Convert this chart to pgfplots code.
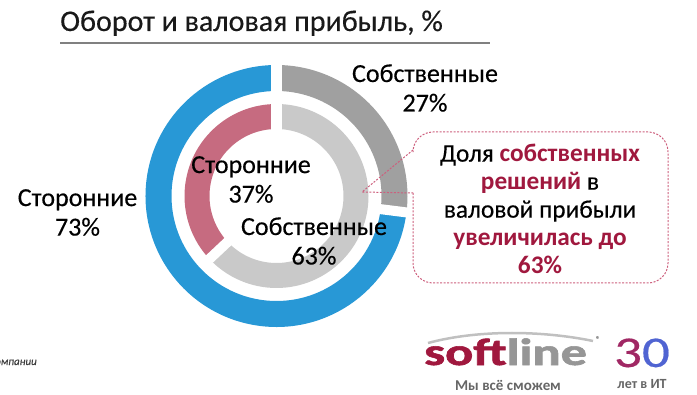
\documentclass[border=0pt]{standalone}
\usepackage{fontspec}
\setmainfont{Carlito}[UprightFeatures={FakeBold=0.35},ItalicFeatures={FakeBold=0.35}]
\newfontfamily\logofont[FakeBold=1.5]{Carlito Bold}
\usepackage{pgfplots}
\usepackage{pgfplotstable}
\pgfplotsset{compat=1.18}
\definecolor{cblue}{RGB}{40,152,214}
\definecolor{cdgray}{RGB}{160,160,160}
\definecolor{clgray}{RGB}{201,201,201}
\definecolor{cpink}{RGB}{198,107,128}
\definecolor{ccrim}{RGB}{160,24,62}
\definecolor{cdash}{RGB}{205,95,125}
\definecolor{ctitleline}{RGB}{128,128,128}
\definecolor{clogogray}{RGB}{150,150,150}
\definecolor{cthree}{RGB}{160,40,100}
\definecolor{czero}{RGB}{80,100,210}

% shares, %: own solutions vs third-party
\pgfplotstableread{
ring  own  ext
outer 27   73
inner 63   37
}\shares

\pgfplotstablegetelem{0}{own}\of\shares \let\outerOwn\pgfplotsretval
\pgfplotstablegetelem{0}{ext}\of\shares \let\outerExt\pgfplotsretval
\pgfplotstablegetelem{1}{own}\of\shares \let\innerOwn\pgfplotsretval
\pgfplotstablegetelem{1}{ext}\of\shares \let\innerExt\pgfplotsretval

\pgfmathsetmacro\aA{90-3.6*\outerOwn}
\pgfmathsetmacro\aB{\aA-3.6*\outerExt}
\pgfmathsetmacro\bA{90-3.6*\innerOwn}
\pgfmathsetmacro\bB{\bA-3.6*\innerExt}

\newcommand\seg[5]{%
  \fill[#1,shift={(axis cs:276.5,199)}] (#2:#5) arc[start angle=#2,end angle=#3,radius=#5]
     -- (#3:#4) arc[start angle=#3,end angle=#2,radius=#4] -- cycle;}

\begin{document}
\begin{tikzpicture}
\useasboundingbox (0,0) rectangle (697bp,395bp);
\begin{axis}[
  at={(0,0)}, anchor=south west,
  scale only axis, width=697bp, height=395bp,
  xmin=0, xmax=697, ymin=0, ymax=395,
  hide axis, clip=false]
  % outer ring (turnover)
  \seg{cdgray}{90}{\aA}{105bp}{131bp}
  \seg{cblue}{\aA}{\aB}{105bp}{131bp}
  % inner ring (gross profit)
  \seg{clgray}{90}{\bA}{67bp}{92bp}
  \seg{cpink}{\bA}{\bB}{67bp}{92bp}
  % separators
  \draw[white,line width=11.5bp,shift={(axis cs:276.5,199)}] (90:60bp) -- (90:140bp);
  \draw[white,line width=10bp,shift={(axis cs:276.5,199)}] (\aA:100bp) -- (\aA:140bp);
  \draw[white,line width=10bp,shift={(axis cs:276.5,199)}] (\bA:60bp) -- (\bA:97bp);

  % title
  \node[anchor=base west,inner sep=0pt,text=black!90] at (axis cs:60,364)
    {\fontsize{30bp}{34bp}\selectfont Оборот и валовая прибыль, \%};
  \draw[ctitleline,line width=2bp] (axis cs:60,352.3) -- (axis cs:490,352.3);

  % ring labels
  \begin{scope}[every node/.style={align=center,inner sep=0pt,font=\fontsize{26bp}{29.5bp}\selectfont}]
  \node at (axis cs:77.5,182.5) {Сторонние\\73\%};
  \node at (axis cs:425,307) {Собственные\\27\%};
  \node at (axis cs:251,215.5) {Сторонние\\37\%};
  \node at (axis cs:314,154) {Собственные\\63\%};
  \end{scope}

  % callout
  \draw[cdash,line width=1bp,dash pattern=on 2bp off 1.5bp,rounded corners=20bp]
    (axis cs:413,202) -- (axis cs:413,112) -- (axis cs:668,112) -- (axis cs:668,263)
    -- (axis cs:413,263) -- (axis cs:413,245);
  \draw[cdash,line width=1bp,dash pattern=on 2bp off 1.5bp]
    (axis cs:413,245) -- (axis cs:362,203) -- (axis cs:413,202);
  \node[align=center,inner sep=0pt,font=\fontsize{25.3bp}{28bp}\selectfont] at (axis cs:540,186)
    {Доля {\bfseries\color{ccrim}собственных}\\
     {\bfseries\color{ccrim}решений} в\\
     валовой прибыли\\
     {\bfseries\color{ccrim}увеличилась до}\\
     {\bfseries\color{ccrim}63\%}};

  % source note (cut at the left edge)
  \node[anchor=base east,inner sep=0pt,font=\fontsize{11bp}{13bp}\itshape\selectfont,text=black!75]
    at (axis cs:37,30) {По данным компании};

  % logo
  \draw[clogogray!60,line width=2.5bp] (axis cs:428,52) .. controls (axis cs:480,66) and (axis cs:545,64) .. (axis cs:593,54);
  \node[anchor=base west,inner sep=0pt,font=\fontsize{38bp}{40bp}\logofont] at (axis cs:424,30)
    {\scalebox{1.38}[1]{\textcolor{ccrim}{soft}\textcolor{clogogray}{line}}};
  \node[inner sep=0pt,text=clogogray,font=\fontsize{8bp}{9bp}\selectfont] at (axis cs:598,56) {®};
  \node[inner sep=0pt,text=black!60,font=\fontsize{15bp}{16bp}\bfseries\selectfont] at (axis cs:508,10) {Мы всё сможем};
  \node[anchor=base,inner sep=0pt,font=\fontsize{44bp}{46bp}\selectfont] at (axis cs:642,28)
    {\scalebox{1.25}[1]{\textcolor{cthree}{3}\textcolor{czero}{0}}};
  \node[inner sep=0pt,text=black!60,font=\fontsize{14bp}{15bp}\bfseries\selectfont] at (axis cs:642,11) {лет в ИТ};
\end{axis}
\end{tikzpicture}
\end{document}
